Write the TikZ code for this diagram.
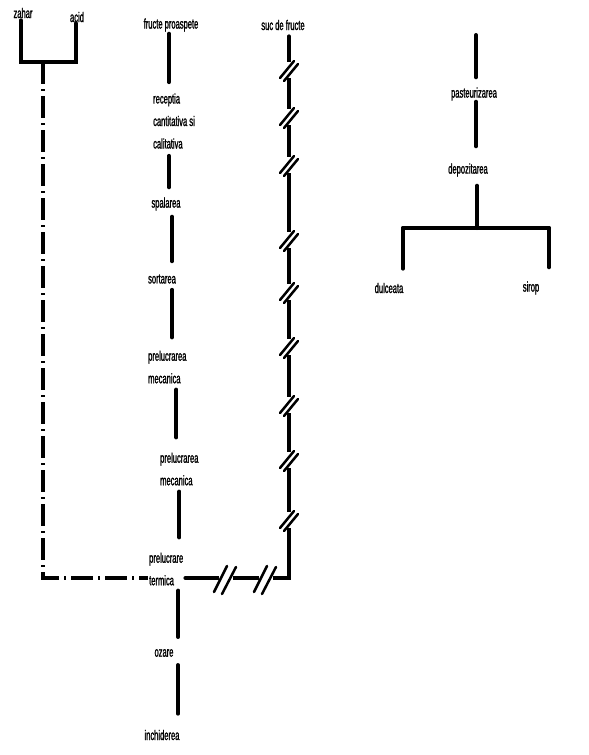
\documentclass[tikz,border=0pt]{standalone}
\usepackage{fontspec}
\setmainfont[FakeStretch=0.54,FakeBold=1.2]{Liberation Sans}
\begin{document}
\begin{tikzpicture}[x=1pt,y=-1pt,
  txt/.style={inner sep=1pt, font=\fontsize{14}{22.5}\selectfont},
  mtxt/.style={txt, align=left, anchor=west},
  conn/.style={line width=4pt, line cap=round},
  link/.style={conn, shorten <=5pt, shorten >=12pt},
  dd/.style={line width=3.5pt, dash pattern=on 22pt off 5pt on 2pt off 5pt},
  slash/.style={line width=2.5pt, line cap=round},
  vbrk/.pic={\fill[white] (-3,-8) rectangle (3,8);
             \draw[slash] (-9,8) -- (5,-9);
             \draw[slash] (-5,11) -- (9,-6);},
  hbrk/.pic={\fill[white] (-7,-3) rectangle (7,3);
             \draw[slash] (-12,14) -- (1,-12);
             \draw[slash] (-4,16) -- (10,-11);}]
\fill[white] (0,0) rectangle (589,755);
\useasboundingbox (0,0) rectangle (589,755);

% left column nodes
\node[txt] (zahar) at (23,13) {zahar};
\node[txt] (acid) at (77,17) {acid};
\node[txt] (fp) at (171,25) {fructe proaspete};
\node[mtxt] (rec) at (152,121) {receptia\\cantitativa si\\calitativa};
\node[txt] (spal) at (166,204) {spalarea};
\node[txt] (sort) at (162,279) {sortarea};
\node[mtxt] (pm1) at (147,367) {prelucrarea\\mecanica};
\node[mtxt] (pm2) at (159,469) {prelucrarea\\mecanica};
\node[mtxt] (pt) at (148,569) {prelucrare\\termica};
\node[txt] (ozare) at (164,653) {ozare};
\node[txt] (inch) at (162,735) {inchiderea};
\node[txt] (suc) at (283,25) {suc de fructe};

% right tree nodes
\node[txt] (past) at (474,94) {pasteurizarea};
\node[txt] (depo) at (468,170) {depozitarea};
\node[txt] (dulc) at (389,288) {dulceata};
\node[txt] (sirop) at (531,288) {sirop};

\coordinate (zb) at (21,62);
\coordinate (ab) at (76,62);
\coordinate (zm) at (43,62);
\coordinate (corner) at (43,578);
\coordinate (rc) at (289,578);
\coordinate (ptop) at (476,35);
\coordinate (bl) at (403,228);
\coordinate (br) at (549,228);

% zahar / acid
\draw[conn, shorten <=1pt] ([xshift=-2pt]zahar.south) -- (zb) -- (ab) -- ([xshift=-1pt]acid.south);
\draw[dd] (zm) -- (corner) -- (corner -| pt.west);

% main column
\draw[conn, shorten <=1pt, shorten >=10pt] ([xshift=-2pt]fp.south) -- ([xshift=-2pt]fp.south |- rec.north);
\draw[conn, shorten <=6pt, shorten >=9pt] ([xshift=-5pt]rec.south) -- ([xshift=-5pt]rec.south |- spal.north);
\draw[link] ([xshift=6pt]spal.south) -- ([xshift=6pt]spal.south |- sort.north);
\draw[link] ([xshift=10pt]sort.south) -- ([xshift=10pt]sort.south |- pm1.north);
\draw[link, shorten >=14pt] ([xshift=9pt]pm1.south) -- ([xshift=9pt]pm1.south |- pm2.north);
\draw[link, shorten >=14pt] (pm2.south) -- (pm2.south |- pt.north);
\draw[link, shorten <=4pt, shorten >=11pt] ([xshift=12pt]pt.south) -- ([xshift=12pt]pt.south |- ozare.north);
\draw[link, shorten <=7pt, shorten >=15pt] ([xshift=14pt]ozare.south) -- ([xshift=14pt]ozare.south |- inch.north);

% juice line with breaks
\draw[conn, shorten <=1pt, shorten >=5pt] (pt.east |- corner) -- (rc) -- (rc |- suc.south);
\foreach \yy in {70,117,165,240,292,347,405,460,520}
  \pic at (289,\yy) {vbrk};
\pic at (226,578) {hbrk};
\pic at (266,578) {hbrk};

% right tree
\draw[conn, shorten >=9pt] (ptop) -- (ptop |- past.north);
\draw[conn, shorten <=0pt, shorten >=16pt] ([xshift=2pt]past.south) -- ([xshift=2pt]past.south |- depo.north);
\draw[conn, shorten <=8pt] ([xshift=9pt]depo.south) -- ([xshift=9pt]depo.south |- bl);
\draw[conn] (bl) -- (br);
\draw[conn, shorten >=13pt] (bl) -- (bl |- dulc.north);
\draw[conn, shorten >=13pt] (br) -- (br |- sirop.north);
\end{tikzpicture}
\end{document}
